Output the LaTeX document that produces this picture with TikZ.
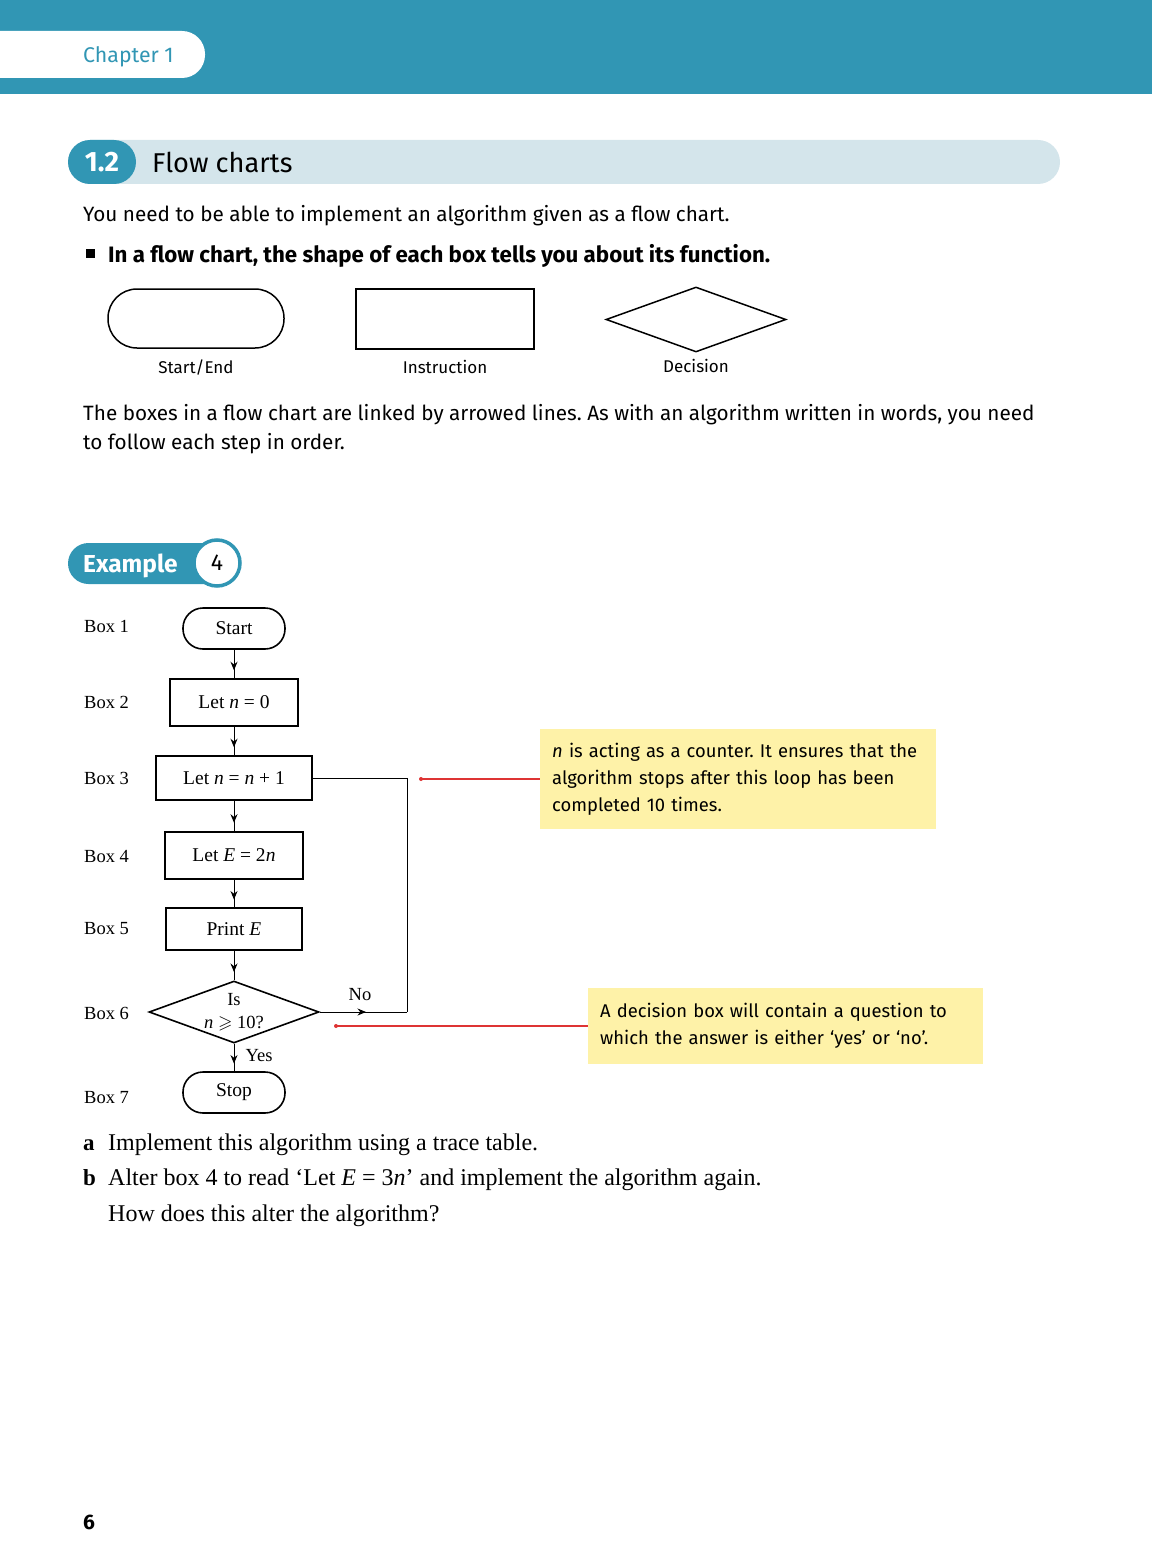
\documentclass[tikz,border=0pt]{standalone}
\usepackage{fontspec}
\usepackage{amssymb}
\usepackage{tikz}
\setmainfont{Liberation Serif}
\newfontfamily\sansbody{Fira Sans}
\usetikzlibrary{positioning,shapes.geometric,arrows.meta,decorations.markings}
\definecolor{headteal}{RGB}{49,150,180}
\definecolor{barblue}{RGB}{212,229,235}
\definecolor{notebg}{RGB}{254,242,168}
\definecolor{pointred}{RGB}{222,52,52}
\tikzset{
  bodytext/.style={anchor=base west, inner sep=0pt, font=\sansbody\fontsize{20.7}{28}\selectfont},
  charttext/.style={font=\fontsize{19.5}{23}\selectfont},
  boxlabel/.style={anchor=base west, inner sep=0pt, font=\fontsize{18.5}{23}\selectfont},
  terminal/.style={draw, line width=1.6pt, rounded corners=20pt, minimum width=102pt, minimum height=41pt, charttext},
  instr/.style={draw, line width=1.6pt, minimum height=46pt, charttext},
  decision/.style={draw, diamond, line width=1.6pt, aspect=2.74, inner sep=0pt, align=center, font=\fontsize{18.5}{23}\selectfont},
  flow/.style={line width=0.9pt},
  arrowat/.style={postaction={decorate, decoration={markings, mark=at position #1 with {\arrow{Stealth[length=8.5pt,width=7pt]}}}}},
  note/.style={fill=notebg, anchor=north west, align=left, inner xsep=12pt, font=\sansbody\fontsize{18.4}{27}\selectfont},
  legendlabel/.style={font=\sansbody\fontsize{17}{22}\selectfont},
  pointer/.style={pointred, line width=1.1pt},
  question/.style={anchor=base west, inner sep=0pt, font=\fontsize{24}{28}\selectfont}
}
\begin{document}
\frenchspacing
\begin{tikzpicture}[x=1pt,y=-1pt]
\useasboundingbox (0,0) rectangle (1152,1565);
%header band
\fill[headteal] (0,0) rectangle (1152,94);
\fill[white, rounded corners=23pt] (-40,31) rectangle (205,78);
\node[bodytext, text=headteal, font=\sansbody\fontsize{21.3}{26}\selectfont] (chap) at (83,63) {Chapter 1};
%section bar
\fill[barblue, rounded corners=22pt] (68,140) rectangle (1060,184);
\fill[headteal, rounded corners=22pt] (68,140) rectangle (136,184);
\node[text=white, font=\sansbody\bfseries\fontsize{28}{32}\selectfont] (secnum) at (102,162) {1.2};
\node[bodytext, font=\sansbody\fontsize{27.2}{32}\selectfont] (sectitle) at (152,173) {Flow charts};
%intro
\node[bodytext] (intro) at (83,221) {You need to be able to implement an algorithm given as a flow chart.};
\fill (86,249) rectangle (95,258);
\node[bodytext, font=\sansbody\bfseries\fontsize{22.3}{28}\selectfont] (keypoint) at (108,262) {In a flow chart, the shape of each box tells you about its function.};
%shape legend
\node[draw, line width=1.5pt, rounded corners=29pt, minimum width=176pt, minimum height=59pt] (startshape) at (196,318.5) {};
\node[draw, line width=1.5pt, minimum width=178pt, minimum height=60pt] (instrshape) at (445,319) {};
\node[draw, diamond, line width=1.5pt, minimum width=180pt, minimum height=65pt, inner sep=0pt] (decshape) at (696,319.5) {};
\node[legendlabel, below=7pt of startshape] (startlab) {Start/End};
\node[legendlabel, below=7pt of instrshape] (instrlab) {Instruction};
\node[legendlabel, below=3pt of decshape] (declab) {Decision};
\node[bodytext] (para1) at (83,420) {The boxes in a flow chart are linked by arrowed lines. As with an algorithm written in words, you need};
\node[bodytext] (para2) at (83,449) {to follow each step in order.};
%example badge
\fill[headteal, rounded corners=20.5pt] (68,543) rectangle (232,584);
\node[bodytext, text=white, font=\sansbody\bfseries\fontsize{24.5}{28}\selectfont] (extitle) at (83,572) {Example};
\node[circle, fill=white, draw=headteal, line width=3.5pt, minimum size=46pt, inner sep=0pt, font=\sansbody\fontsize{23}{26}\selectfont] (exnum) at (217,563) {4};
%box labels
\foreach \k/\y in {1/632,2/708,3/784,4/862,5/934,6/1019,7/1103}
  \node[boxlabel] (lab\k) at (84,\y) {Box \k};
%flow chart boxes
\node[terminal] (b1) at (234,628.5) {Start};
\node[instr, minimum width=128pt, minimum height=47pt] (b2) at (234,702.5) {Let \textit{n} = 0};
\node[instr, minimum width=156pt, minimum height=44pt] (b3) at (234,778) {Let \textit{n} = \textit{n} + 1};
\node[instr, minimum width=138pt, minimum height=47pt] (b4) at (234,855.5) {Let \textit{E} = 2\textit{n}};
\node[instr, minimum width=136pt, minimum height=42pt] (b5) at (234,929) {Print \textit{E}};
\node[decision, minimum width=170pt, minimum height=62pt] (b6) at (234,1012) {Is\\\textit{n} $\geqslant$ 10?};
\node[terminal] (b7) at (234,1092.5) {Stop};
%arrows
\draw[flow, arrowat=.72] (b1) -- (b2);
\draw[flow, arrowat=.72] (b2) -- (b3);
\draw[flow, arrowat=.72] (b3) -- (b4);
\draw[flow, arrowat=.72] (b4) -- (b5);
\draw[flow, arrowat=.72] (b5) -- (b6);
\draw[flow, arrowat=.72] (b6) -- (b7);
\coordinate (loopbot) at (407,1012);
\draw[flow, arrowat=.53] (b6.east) -- (loopbot);
\draw[flow] (loopbot) |- (b3.east);
\node[charttext, font=\fontsize{18.5}{23}\selectfont] (nolab) at (360,995) {No};
\node[charttext, font=\fontsize{18.5}{23}\selectfont] (yeslab) at (259,1056) {Yes};
%notes
\node[note, text width=372pt, minimum height=100pt] (note1) at (540,729) {\textit{n} is acting as a counter. It ensures that the\\algorithm stops after this loop has been\\completed 10 times.};
\node[note, text width=371pt, minimum height=76pt] (note2) at (588,988) {A decision box will contain a question to\\which the answer is either ‘yes’ or ‘no’.};
\coordinate (dot1) at (421,779);
\coordinate (dot2) at (336,1026);
\draw[pointer] (dot1) -- (dot1 -| note1.west);
\draw[pointer] (dot2) -- (dot2 -| note2.west);
\fill[pointred] (dot1) circle (2pt);
\fill[pointred] (dot2) circle (2pt);
%questions
\node[question, font=\bfseries\fontsize{23}{28}\selectfont] (qa) at (83,1150) {a};
\node[question] (qatext) at (108,1150) {Implement this algorithm using a trace table.};
\node[question, font=\bfseries\fontsize{23}{28}\selectfont] (qb) at (83,1185) {b};
\node[question] (qbtext) at (108,1185) {Alter box 4 to read ‘Let \textit{E} = 3\textit{n}’ and implement the algorithm again.};
\node[question] (qbmore) at (108,1221) {How does this alter the algorithm?};
%page number
\node[bodytext, font=\sansbody\bfseries\fontsize{21}{26}\selectfont] (pagenum) at (83,1529) {6};
\end{tikzpicture}
\end{document}
